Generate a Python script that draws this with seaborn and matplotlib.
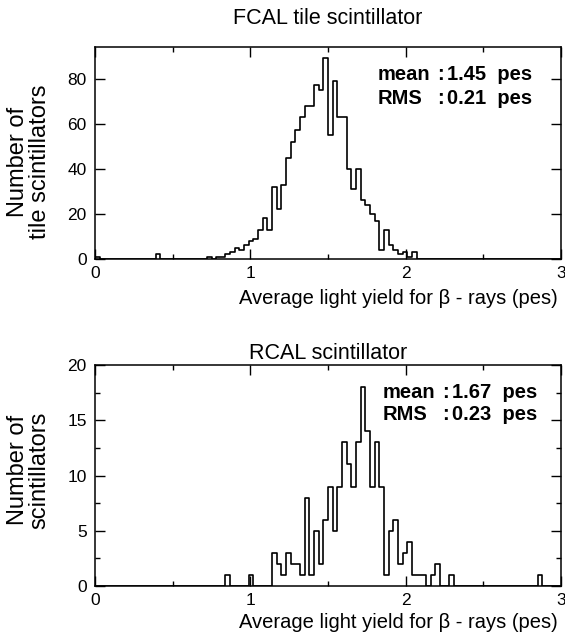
import numpy as np
import pandas as pd
import seaborn as sns
import matplotlib.pyplot as plt
from matplotlib.ticker import FixedLocator

sns.set_style("ticks")
plt.rcParams['font.family'] = ['Liberation Sans', 'DejaVu Sans']
plt.rcParams['text.color'] = 'black'
plt.rcParams['axes.labelcolor'] = 'black'
plt.rcParams['xtick.color'] = 'black'
plt.rcParams['ytick.color'] = 'black'

BIN_WIDTH = 0.03
N_BINS = 100

# FCAL tile scintillator: bin index (width 0.03 from 0) and counts
fcal_bins = [0, 13, 24, 26, 27, 28, 29, 30, 31, 32, 33, 34, 35, 36, 37, 38, 39,
             40, 41, 42, 43, 44, 45, 46, 47, 48, 49, 50, 51, 52, 53, 54, 55,
             56, 57, 58, 59, 60, 61, 62, 63, 64, 65, 66, 67, 68]
fcal_counts = [1, 2, 1, 1, 1, 2, 3, 5, 4, 6, 8, 9, 13, 18, 13, 32, 22,
               33, 45, 52, 57, 63, 68, 68, 77, 75, 89, 55, 79, 63, 63, 40, 31,
               40, 26, 24, 20, 17, 4, 13, 6, 4, 2, 3, 1, 3]

# RCAL scintillator
rcal_bins = [28, 33, 38, 39, 40, 41, 42, 43, 44, 45, 46, 47, 48, 49, 50, 51,
             52, 53, 54, 55, 56, 57, 58, 59, 60, 61, 62, 63, 64, 65, 66, 67,
             68, 69, 70, 72, 73, 76, 95]
rcal_counts = [1, 1, 3, 2, 1, 3, 2, 2, 1, 8, 1, 5, 2, 6, 9, 5,
               9, 13, 11, 9, 13, 18, 14, 9, 13, 9, 1, 5, 6, 2, 3, 4,
               1, 1, 1, 1, 2, 1, 1]

fcal_title = "FCAL tile scintillator"
rcal_title = "RCAL scintillator"
x_label = "Average light yield for β - rays (pes)"
fcal_ylabel = "Number of\ntile scintillators"
rcal_ylabel = "Number of\nscintillators"
fcal_stats = [("mean", "1.45  pes"), ("RMS", "0.21  pes")]
rcal_stats = [("mean", "1.67  pes"), ("RMS", "0.23  pes")]

edges = [round(i * BIN_WIDTH, 4) for i in range(N_BINS + 1)]


def to_frame(bins, counts):
    centers = (np.asarray(bins) + 0.5) * BIN_WIDTH
    return pd.DataFrame({"value": centers, "count": np.asarray(counts, float)})


W, H = 565, 635
fig = plt.figure(figsize=(W / 100, H / 100), dpi=100)

def axes_rect(left, right, top, bottom):
    return [left / W, 1 - bottom / H, (right - left) / W, (bottom - top) / H]

ax1 = fig.add_axes(axes_rect(95, 561, 47, 259))
ax2 = fig.add_axes(axes_rect(95, 561, 365, 586))

panels = [
    (ax1, to_frame(fcal_bins, fcal_counts), fcal_title, fcal_ylabel,
     (0, 94), [0, 20, 40, 60, 80], None, 16.5),
    (ax2, to_frame(rcal_bins, rcal_counts), rcal_title, rcal_ylabel,
     (0, 20), [0, 5, 10, 15, 20], [2.5, 7.5, 12.5, 17.5], 4),
]

for ax, df, title, ylab, ylim, yticks, yminor, tpad in panels:
    sns.histplot(data=df, x="value", weights="count", bins=edges,
                 element="step", fill=False, color="black", linewidth=1.2,
                 ax=ax)
    ax.set_xlim(0, 3)
    ax.set_ylim(*ylim)
    ax.set_xticks([0, 1, 2, 3])
    ax.xaxis.set_minor_locator(FixedLocator([0.5, 1.5, 2.5]))
    ax.set_yticks(yticks)
    if yminor:
        ax.yaxis.set_minor_locator(FixedLocator(yminor))
    for s in ax.spines.values():
        s.set_visible(True)
        s.set_linewidth(1.1)
        s.set_color("black")
    ax.tick_params(which="major", direction="in", top=True, right=True,
                   length=7, width=1, labelsize=12.5, pad=5, colors="black")
    ax.tick_params(axis="y", which="major", pad=6)
    ax.tick_params(which="minor", direction="in", top=True, right=True,
                   length=3.5, width=1)
    ax.set_title(title, fontsize=15.5, pad=tpad, color="black")
    ax.set_xlabel(x_label, fontsize=14.5, ha="right", va="center")
    ax.set_ylabel(ylab, fontsize=17, linespacing=0.95, ha="center", va="center")
    ax.grid(False)

ax1.xaxis.set_label_coords(0.992, -(298 - 259) / 212)
ax2.xaxis.set_label_coords(0.992, -(622 - 586) / 221)
ax1.yaxis.set_label_coords(-(95 - 29) / 466, (259 - 162) / 212)
ax2.yaxis.set_label_coords(-(95 - 29) / 466, (586 - 470) / 221)

# stats text
def stats_text(ax, stats, xl, xc, xv, y0, dy):
    for i, (name, val) in enumerate(stats):
        y = y0 - i * dy
        kw = dict(transform=ax.transAxes, fontsize=14.5, fontweight="bold",
                  va="center", color="black")
        ax.text(xl, y, name, ha="left", **kw)
        ax.text(xc, y, ":", ha="left", **kw)
        ax.text(xv, y, val, ha="left", **kw)

stats_text(ax1, fcal_stats, (378 - 95) / 466, (437 - 95) / 466, (447 - 95) / 466,
           (259 - 75) / 212, 23 / 212)
stats_text(ax2, rcal_stats, (383 - 95) / 466, (442 - 95) / 466, (452 - 95) / 466,
           (586 - 393) / 221, 21 / 221)

fig.savefig("out.png", dpi=100)
